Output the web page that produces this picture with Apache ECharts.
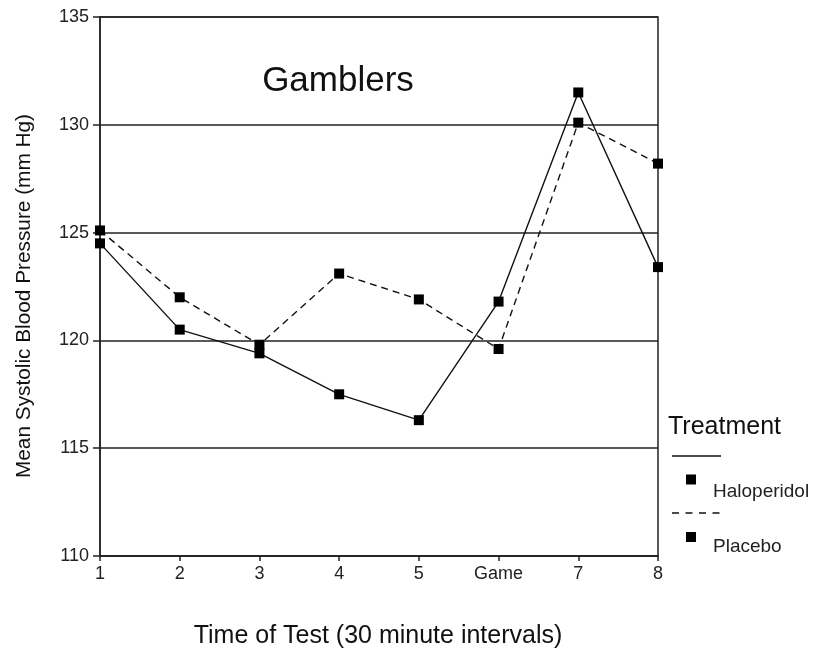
<!DOCTYPE html>
<html><head><meta charset="utf-8">
<script src="https://cdn.jsdelivr.net/npm/echarts@6/dist/echarts.min.js"></script>
<style>html,body{margin:0;padding:0;background:#fff}#c{width:814px;height:650px}</style>
</head><body><div id="c"></div>
<script>
var categories = ['1','2','3','4','5','Game','7','8'];
var haloperidol = [124.5, 120.5, 119.4, 117.5, 116.3, 121.8, 131.5, 123.4];
var placebo = [125.1, 122.0, 119.8, 123.1, 121.9, 119.6, 130.1, 128.2];
var yTicks = [110, 115, 120, 125, 130, 135];

var font = 'Liberation Sans, Arial, sans-serif';
var chart = echarts.init(document.getElementById('c'));
chart.setOption({
  backgroundColor: '#fff',
  animation: false,
  title: {text: 'Gamblers', left: 333, top: 59, textAlign: 'center',
    textStyle: {fontFamily: font, fontSize: 35, fontWeight: 'normal', color: '#111'}},
  grid: {left: 100, right: 156, top: 17, bottom: 94, outerBoundsMode: 'none', containLabel: false,
    show: true, borderColor: '#222', borderWidth: 1.5},
  xAxis: {type: 'category', data: categories, boundaryGap: false,
    axisLine: {lineStyle: {color: '#222', width: 1.5}},
    axisTick: {alignWithLabel: true, length: 5, lineStyle: {color: '#222', width: 1.5}},
    axisLabel: {fontFamily: font, fontSize: 18, color: '#222', margin: 9}},
  yAxis: {type: 'value', min: yTicks[0], max: yTicks[yTicks.length-1], interval: 5,
    axisLine: {show: true, lineStyle: {color: '#222', width: 1.5}},
    axisTick: {show: true, length: 7, lineStyle: {color: '#222', width: 1.5}},
    splitLine: {lineStyle: {color: '#222', width: 1.5}},
    axisLabel: {fontFamily: font, fontSize: 18, color: '#222', margin: 11}},
  series: [
    {name: 'Haloperidol', type: 'line', data: haloperidol, symbol: 'rect', symbolSize: 10,
      itemStyle: {color: '#000'}, lineStyle: {color: '#111', width: 1.4, type: 'solid'}},
    {name: 'Placebo', type: 'line', data: placebo, symbol: 'rect', symbolSize: 10,
      itemStyle: {color: '#000'}, lineStyle: {color: '#111', width: 1.4, type: [7, 5]}}
  ],
  graphic: [
    {type: 'text', x: 24, y: 296, rotation: Math.PI / 2,
      style: {text: 'Mean Systolic Blood Pressure (mm Hg)', font: '20.8px ' + font, fill: '#111', align: 'center', verticalAlign: 'middle'}},
    {type: 'text', x: 378, y: 636,
      style: {text: 'Time of Test (30 minute intervals)', font: '25px ' + font, fill: '#111', align: 'center', verticalAlign: 'middle'}},
    {type: 'text', left: 668, top: 415, style: {text: 'Treatment', font: '25px ' + font, fill: '#111'}},
    {type: 'line', shape: {x1: 672, y1: 456, x2: 721, y2: 456}, style: {stroke: '#111', lineWidth: 1.3}},
    {type: 'rect', shape: {x: 686, y: 474.5, width: 10, height: 10}, style: {fill: '#000'}},
    {type: 'text', left: 713, top: 482, style: {text: 'Haloperidol', font: '19px ' + font, fill: '#222'}},
    {type: 'line', shape: {x1: 672, y1: 513, x2: 721, y2: 513}, style: {stroke: '#111', lineWidth: 1.3, lineDash: [7, 6.5]}},
    {type: 'rect', shape: {x: 686, y: 532, width: 10, height: 10}, style: {fill: '#000'}},
    {type: 'text', left: 713, top: 537, style: {text: 'Placebo', font: '19px ' + font, fill: '#222'}}
  ]
});
</script></body></html>
